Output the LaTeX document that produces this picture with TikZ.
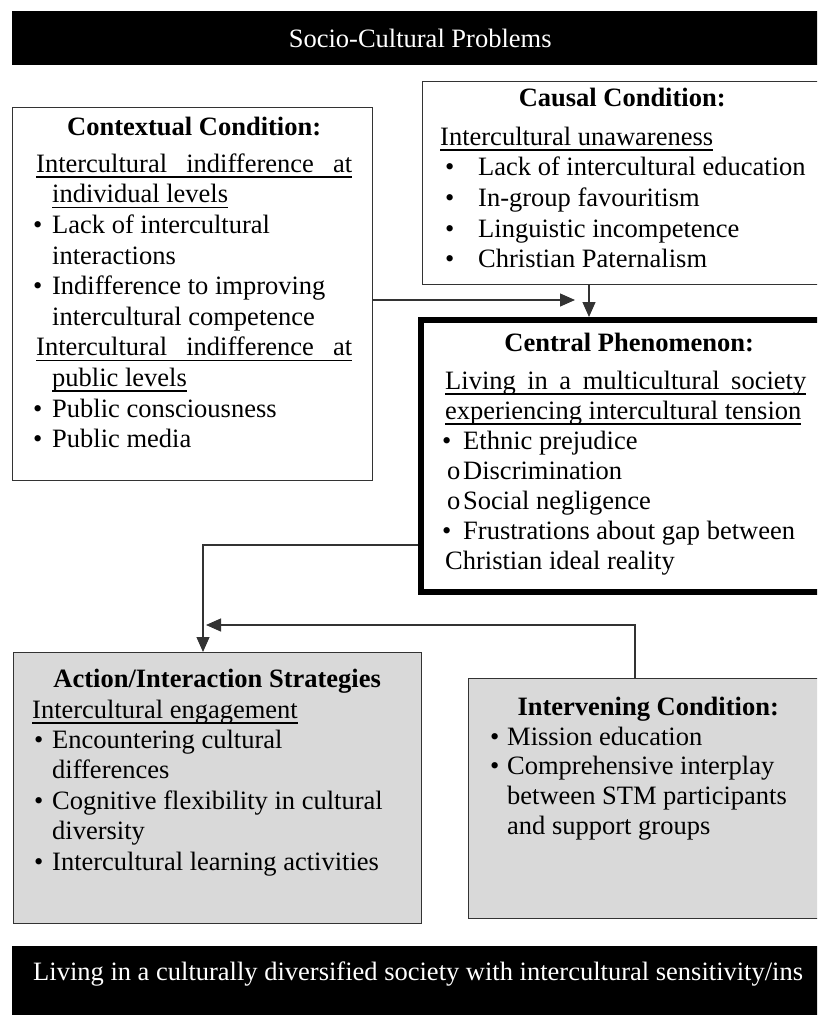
\documentclass[tikz,border=0pt]{standalone}
\usepackage{fontspec}
\setmainfont{Liberation Serif}
\usetikzlibrary{arrows.meta}
\definecolor{panelgray}{RGB}{217,217,217}
% underline at a fixed distance below the baseline
\newcommand\ulin[1]{\leavevmode\setbox0=\hbox{#1}\rlap{\rule[-5.5pt]{\wd0}{1.5pt}}\box0}
% bullet in a box of the given width
\newcommand\bul[1]{\makebox[#1][l]{\kern-3pt•}}
% natural, stretchable interword spaces inside aligned nodes
\newcommand\natsp{\spaceskip=0pt\xspaceskip=0pt\relax}

\begin{document}
\begin{tikzpicture}[x=1pt,y=-1pt,
  every node/.style={font=\fontsize{26.5pt}{30.6pt}\selectfont},
  frame/.style={draw=black!80, line width=1.2pt, rectangle, inner sep=0pt, anchor=north west},
  body/.style={inner sep=0pt, anchor=north west, align=left, text width=#1},
  body/.default=380pt,
  banner/.style={fill=black, inner sep=0pt, anchor=north west, text=white},
  conn/.style={draw=black!80, line width=1.2pt, -{Triangle[length=15pt,width=13pt]}}
]
\useasboundingbox (0,0) rectangle (817,1015);
\clip (0,0) rectangle (817,1015);

% banners
\node[banner, minimum width=816pt, minimum height=54pt] (hdr) at (12,11) {Socio-Cultural Problems};
\node[banner, minimum width=816pt, minimum height=90pt] (ftr) at (12,946) {};
\node[anchor=base west, inner sep=0pt, text=white] (ftrT) at (33,980)
  {Living in a culturally diversified society with intercultural sensitivity/ins};

% frames
\node[frame, minimum width=360pt, minimum height=373pt] (ctx) at (12,107) {};
\node[frame, minimum width=408pt, minimum height=203pt] (cau) at (422,81) {};
\node[frame, draw=black, line width=6pt, minimum width=412pt, minimum height=272pt] (cen) at (418,317) {};
\node[frame, fill=panelgray, minimum width=408pt, minimum height=271pt] (act) at (13,652) {};
\node[frame, fill=panelgray, minimum width=362pt, minimum height=240pt] (itv) at (468,678) {};

% contextual condition
\node[body=340pt] (ctxT) at (36,113.6) {\natsp\strut\makebox[316pt]{\textbf{Contextual Condition:}}\\[6.4pt]
\ulin{\makebox[316pt][s]{Intercultural indifference at}}\\
\hspace*{16pt}\ulin{individual levels}\\
\bul{16pt}Lack of intercultural\\
\hspace*{16pt}interactions\\
\bul{16pt}Indifference to improving\\
\hspace*{16pt}intercultural competence\\
\ulin{\makebox[316pt][s]{Intercultural indifference at}}\\
\hspace*{16pt}\ulin{public levels}\\
\bul{16pt}Public consciousness\\
\bul{16pt}Public media};

% causal condition
\node[body=380pt] (cauT) at (440,84.6) {\natsp\strut\makebox[364pt]{\textbf{Causal Condition:}}\\[8.5pt]
\ulin{Intercultural unawareness}\\
\hspace*{8pt}\bul{30pt}Lack of intercultural education\\
\hspace*{8pt}\bul{30pt}In-group favouritism\\
\hspace*{8pt}\bul{30pt}Linguistic incompetence\\
\hspace*{8pt}\bul{30pt}Christian Paternalism};

% central phenomenon
\node[body=380pt, font=\fontsize{26.5pt}{30pt}\selectfont] (cenT) at (445,330) {\natsp\strut\makebox[368pt]{\textbf{Central Phenomenon:}}\\[8pt]
\ulin{\makebox[361pt][s]{Living in a multicultural society}}\\
\ulin{experiencing intercultural tension}\\
\bul{18pt}Ethnic prejudice\\
\hspace*{2pt}\makebox[16pt][l]{o}Discrimination\\
\hspace*{2pt}\makebox[16pt][l]{o}Social negligence\\
\bul{18pt}Frustrations about gap between\\
Christian ideal reality};

% action/interaction strategies
\node[body=385pt, font=\fontsize{26.5pt}{30.4pt}\selectfont] (actT) at (32,665.7) {\natsp\strut\makebox[370pt]{\textbf{Action/Interaction Strategies}}\\[0.6pt]
\ulin{Intercultural engagement}\\
\hspace*{5pt}\bul{15pt}Encountering cultural\\
\hspace*{20pt}differences\\
\hspace*{5pt}\bul{15pt}Cognitive flexibility in cultural\\
\hspace*{20pt}diversity\\
\hspace*{5pt}\bul{15pt}Intercultural learning activities};

% intervening condition
\node[body=330pt, font=\fontsize{26.5pt}{29.8pt}\selectfont] (itvT) at (493,694.1) {\natsp\strut\makebox[310pt]{\textbf{Intervening Condition:}}\\[0.2pt]
\bul{14pt}Mission education\\
\bul{14pt}Comprehensive interplay\\
\hspace*{14pt}between STM participants\\
\hspace*{14pt}and support groups};

% connectors
\coordinate (m1) at (575,300);
\coordinate (m2) at (589,300);
\coordinate (m3) at (203,545);
\coordinate (m4) at (635,625);
\coordinate (m5) at (206,625);
\draw[conn] (ctx.east |- m1) -- (m1);
\draw[conn] (cau.south -| m2) -- (cen.north -| m2);
\draw[conn] (cen.west |- m3) -- (m3) -- (act.north -| m3);
\draw[conn] (itv.north -| m4) -- (m4) -- (m5);
\end{tikzpicture}
\end{document}
